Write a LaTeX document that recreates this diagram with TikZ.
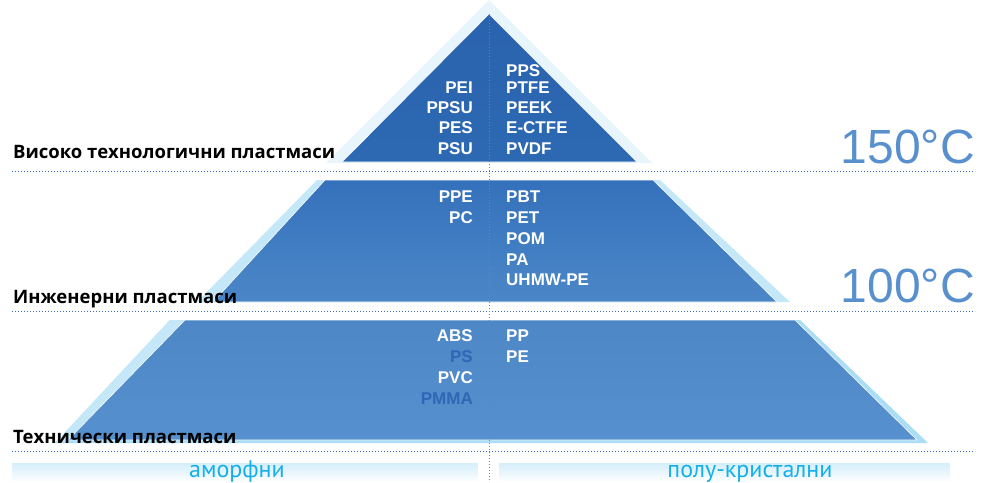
\documentclass[tikz,border=0pt]{standalone}
\usepackage{fontspec}
\setmainfont{Liberation Sans}
\newfontfamily\ptsans{PT Sans}
\newfontfamily\opensans{Open Sans}
\usepackage{xcolor}
\usetikzlibrary{positioning}
\definecolor{myblue}{RGB}{58,108,180}
\definecolor{tempblue}{RGB}{88,144,206}
\definecolor{cyantext}{RGB}{21,176,234}
\definecolor{darkpe}{RGB}{46,103,181}
\definecolor{paleblue}{RGB}{232,245,252}
\definecolor{lightblue}{RGB}{197,232,248}
\definecolor{skyblue}{RGB}{170,222,246}

\begin{document}
\begin{tikzpicture}[x=1pt,y=-1pt,
          plastic/.style={font=\bfseries\fontsize{17}{17}\selectfont,text=white,inner sep=0pt},
          leftcol/.style={plastic,anchor=base east},
          rightcol/.style={plastic,anchor=base west},
          tierlabel/.style={font=\opensans\bfseries\fontsize{18.5}{18.5}\selectfont,anchor=base west,inner sep=0pt},
          templabel/.style={font=\fontsize{48}{48}\selectfont,text=tempblue,anchor=base east,inner sep=0pt},
          classlabel/.style={font=\ptsans\fontsize{24}{24}\selectfont,text=cyantext,anchor=base,inner sep=0pt},
          sep/.style={draw=myblue,dotted,line width=1pt},
          tier/.style={draw=white,line width=0.6pt}
          ]
          \useasboundingbox (0,0) rectangle (990,482);
          % the top tier
          \fill[paleblue] (489,0) -- (652,163) -- (326,163) -- cycle;
          \shade[tier,top color={rgb,255:red,42;green,98;blue,174},bottom color={rgb,255:red,45;green,105;blue,179}]
            (489,14) -- (637,162) -- (342,162) -- cycle;
          % the middle tier
          \fill[lightblue] (317,180) -- (660,180) -- (790,302) -- (197,302) -- cycle;
          \shade[tier,top color={rgb,255:red,53;green,113;blue,187},bottom color={rgb,255:red,75;green,135;blue,199}]
            (325,180) -- (653,180) -- (777,302) -- (213,302) -- cycle;
          % the bottom tier
          \fill[skyblue] (170,320) -- (800,320) -- (928,443) -- (55,443) -- cycle;
          \fill[lightblue] (170,320) -- (185,320) -- (68,440) -- (55,443) -- cycle;
          \shade[tier,top color={rgb,255:red,78;green,135;blue,198},bottom color={rgb,255:red,86;green,144;blue,206}]
            (185,320) -- (795,320) -- (917,440) -- (68,440) -- cycle;
          % the class boxes
          \shade[top color={rgb,255:red,212;green,238;blue,250},bottom color=white] (12,463) rectangle (478,482);
          \shade[top color={rgb,255:red,212;green,238;blue,250},bottom color=white] (499,463) rectangle (950,482);
          % the separators
          \coordinate (s1a) at (12,171);  \coordinate (s1b) at (975,171);
          \coordinate (s2a) at (12,311);  \coordinate (s2b) at (975,311);
          \coordinate (s3a) at (12,451);  \coordinate (s3b) at (975,451);
          \coordinate (apex) at (489,14); \coordinate (foot) at (489,482);
          \draw[sep] (s1a) -- (s1b);
          \draw[sep] (s2a) -- (s2b);
          \draw[sep] (s3a) -- (s3b);
          \draw[sep,draw={rgb,255:red,90;green,135;blue,200}] (apex) -- (foot);
          % the plastics
          \foreach \name/\yy in {PEI/93,PPSU/113,PES/133,PSU/154}
            \node[leftcol] (h-\name) at (473,\yy) {\name};
          \foreach \name/\yy in {PPS/76,PTFE/93,PEEK/113,E-CTFE/133,PVDF/154}
            \node[rightcol] (h-\name) at (506,\yy) {\name};
          \foreach \name/\yy in {PPE/202,PC/223}
            \node[leftcol] (e-\name) at (473,\yy) {\name};
          \foreach \name/\yy in {PBT/202,PET/223,POM/244,PA/265,UHMW-PE/285}
            \node[rightcol] (e-\name) at (506,\yy) {\name};
          \foreach \name/\yy/\col in {ABS/341/white,PS/362/darkpe,PVC/383/white,PMMA/404/darkpe}
            \node[leftcol,text=\col] (t-\name) at (473,\yy) {\name};
          \foreach \name/\yy in {PP/341,PE/362}
            \node[rightcol] (t-\name) at (506,\yy) {\name};
          % the tier names
          \node[tierlabel] (high) at (13,158) {Високо технологични пластмаси};
          \node[tierlabel] (eng) at (13,303) {Инженерни пластмаси};
          \node[tierlabel] (tech) at (13,443) {Технически пластмаси};
          \node[templabel] (t150) at (975,163) {150°C};
          \node[templabel] (t100) at (975,302) {100°C};
          \node[classlabel] (amorph) at (237,477) {аморфни};
          \node[classlabel] (semi) at (750,477) {полу-кристални};
        \end{tikzpicture}
\end{document}
